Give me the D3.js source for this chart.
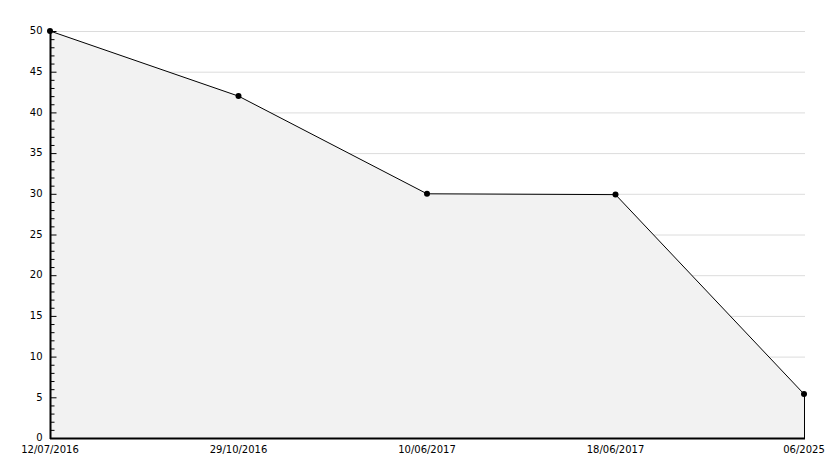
<!DOCTYPE html>
<html><head><meta charset="utf-8">
<script src="https://cdn.jsdelivr.net/npm/d3@7"></script>
<style>body{margin:0;background:#fff}svg{display:block}</style>
</head><body>
<svg id="c" width="834" height="468"></svg>
<script>
const categories = ["12/07/2016","29/10/2016","10/06/2017","18/06/2017","06/2025"];
const values = [50, 42, 30, 29.9, 5.4];
const yTicks = [0,5,10,15,20,25,30,35,40,45,50];

(function(){
const svg = d3.select("#c");
const mL = 50, mR = 804, mT = 31, mB = 438;
const x = d3.scalePoint().domain(categories).range([mL, mR]);
const y = d3.scaleLinear().domain([0, 50]).range([mB, mT]);
const font = "DejaVu Sans, Verdana, sans-serif";

// grid
svg.append("g").selectAll("line").data(yTicks.filter(d=>d>0)).join("line")
  .attr("x1", mL).attr("x2", mR+1)
  .attr("y1", d=>y(d)+0.5).attr("y2", d=>y(d)+0.5)
  .attr("stroke", "#dcdcdc").attr("stroke-width", 1);

const data = categories.map((c,i)=>({c, v: values[i]}));
// area
svg.append("path").datum(data)
  .attr("d", d3.area().x(d=>x(d.c)).y0(y(0)).y1(d=>y(d.v)))
  .attr("fill", "#f2f2f2");
// line
svg.append("path").datum(data)
  .attr("d", d3.line().x(d=>x(d.c)).y(d=>y(d.v)))
  .attr("fill", "none").attr("stroke", "#000").attr("stroke-width", 1);
// right edge drop
const lastX = x(categories[categories.length-1]);
svg.append("line")
  .attr("x1", lastX+0.5).attr("x2", lastX+0.5)
  .attr("y1", y(values[values.length-1])).attr("y2", y(0))
  .attr("stroke", "#000");

// y axis with minor ticks
const yAxis = svg.append("g").attr("transform", `translate(${mL+0.5},0)`);
yAxis.append("line").attr("y1", mT).attr("y2", mB+1).attr("stroke", "#000").attr("stroke-width", 2);
const minor = d3.range(0, 51, 1).filter(d=>d%5!==0);
yAxis.selectAll(".mn").data(minor).join("line").attr("class","mn")
  .attr("x1", 0).attr("x2", 4).attr("y1", d=>y(d)+0.5).attr("y2", d=>y(d)+0.5).attr("stroke","#000");
yAxis.selectAll(".mj").data(yTicks).join("line").attr("class","mj")
  .attr("x1", 0).attr("x2", 6).attr("y1", d=>y(d)+0.5).attr("y2", d=>y(d)+0.5).attr("stroke","#000");
yAxis.selectAll("text").data(yTicks).join("text")
  .attr("x", -8).attr("y", d=>y(d)).attr("dy", "0.32em")
  .attr("text-anchor", "end").attr("font-family", font).attr("font-size", 10).attr("fill","#000")
  .text(d=>d);

// x axis
const xAxis = svg.append("g");
xAxis.append("line").attr("x1", mL).attr("x2", mR+1).attr("y1", mB+0.5).attr("y2", mB+0.5)
  .attr("stroke", "#000").attr("stroke-width", 2);
xAxis.selectAll("text").data(categories).join("text")
  .attr("x", d=>x(d)).attr("y", mB+15)
  .attr("text-anchor", "middle").attr("font-family", font).attr("font-size", 10).attr("fill","#000")
  .text(d=>d);

// markers
svg.append("g").selectAll("circle").data(data).join("circle")
  .attr("cx", d=>x(d.c)).attr("cy", d=>y(d.v)).attr("r", 3).attr("fill", "#000");
})();
</script>
</body></html>
